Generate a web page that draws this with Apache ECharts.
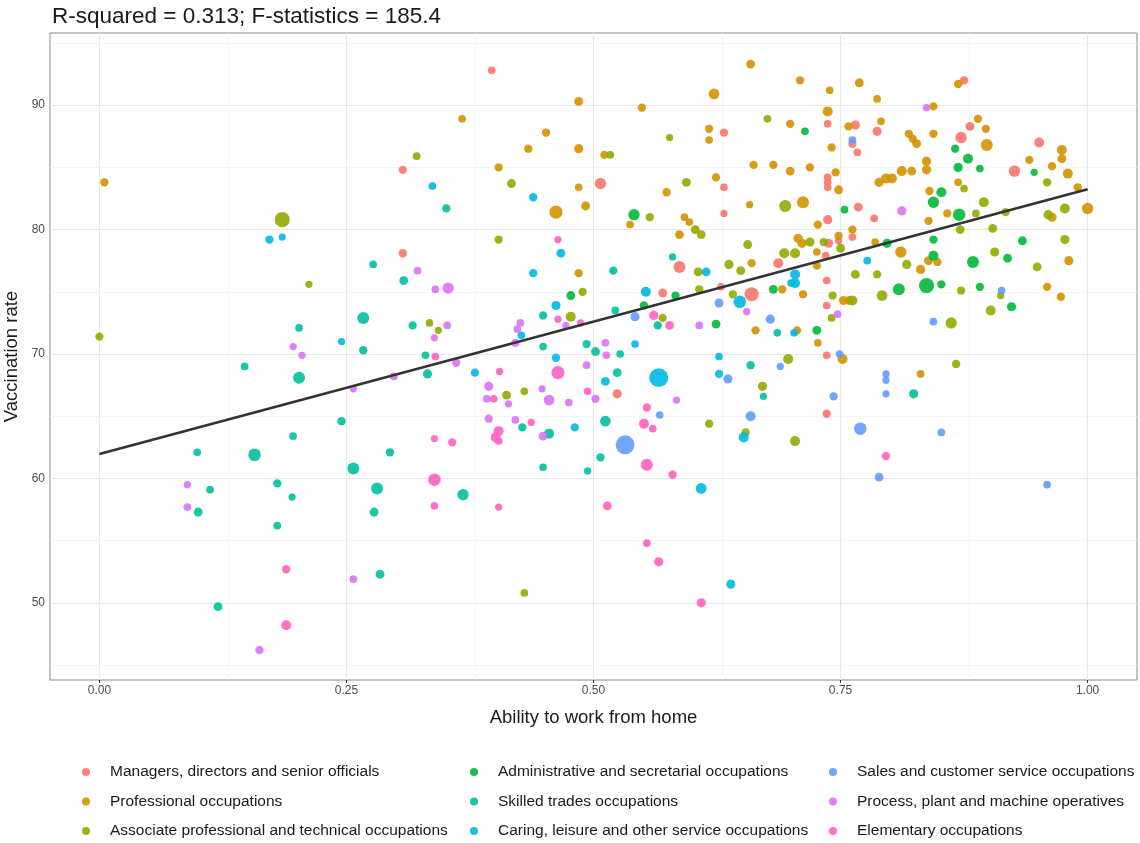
<!DOCTYPE html>
<html><head><meta charset="utf-8">
<script src="https://cdn.jsdelivr.net/npm/echarts@6/dist/echarts.min.js"></script>
<style>html,body{margin:0;padding:0;background:#fff}#chart{width:1140px;height:843px}</style>
</head><body><div id="chart"></div>
<script>
// ---- Data ----
const titleText = 'R-squared = 0.313; F-statistics = 185.4';
const xAxisTitle = 'Ability to work from home';
const yAxisTitle = 'Vaccination rate';
const xTicks = [0, 0.25, 0.5, 0.75, 1];
const yTicks = [50, 60, 70, 80, 90];
const xMinorTicks = [0.125, 0.375, 0.625, 0.875];
const yMinorTicks = [45, 55, 65, 75, 85, 95];
const groupNames = [
  'Managers, directors and senior officials',
  'Professional occupations',
  'Associate professional and technical occupations',
  'Administrative and secretarial occupations',
  'Skilled trades occupations',
  'Caring, leisure and other service occupations',
  'Sales and customer service occupations',
  'Process, plant and machine operatives',
  'Elementary occupations'
];
// each point: [ability to work from home, vaccination rate, workers (thousands)]
const managers = [
  [0.307,84.8,15],[0.307,78.1,15],[0.397,92.8,12],[0.507,83.7,35],[0.632,83.4,12],[0.632,87.8,15],
  [0.632,81.3,10],[0.587,77.0,40],[0.570,74.9,18],[0.629,75.4,12],[0.660,74.8,60],[0.524,66.8,20],
  [0.736,69.9,12],[0.736,65.2,15],[0.737,88.5,12],[0.765,88.4,20],[0.762,86.9,15],[0.767,86.2,12],
  [0.737,84.2,12],[0.737,83.8,12],[0.737,83.4,12],[0.737,80.8,20],[0.875,92.0,15],[0.787,87.9,20],
  [0.872,87.4,35],[0.881,88.3,18],[0.951,87.0,25],[0.926,84.7,35],[0.768,81.8,18],[0.784,80.9,12],
  [0.762,79.4,12],[0.738,78.9,18],[0.748,79.1,10],[0.735,77.9,12],[0.687,77.3,25],[0.736,75.9,12],
  [0.736,73.9,12]
];
const professional = [
  [0.005,83.8,15],[0.485,90.3,18],[0.549,89.8,15],[0.622,90.9,30],[0.659,93.3,18],[0.367,88.9,12],
  [0.452,87.8,15],[0.434,86.5,15],[0.485,86.5,20],[0.511,86.0,15],[0.404,85.0,15],[0.485,83.4,12],
  [0.462,81.4,50],[0.492,81.9,18],[0.574,83.0,15],[0.624,84.2,15],[0.617,88.1,15],[0.617,87.2,12],
  [0.662,85.2,15],[0.682,85.2,15],[0.658,82.0,10],[0.537,80.4,12],[0.592,81.0,12],[0.597,80.6,12],
  [0.587,79.6,18],[0.660,77.3,15],[0.485,76.5,15],[0.664,71.9,15],[0.752,69.6,25],[0.831,68.4,12],
  [0.709,92.0,15],[0.739,91.2,12],[0.737,89.5,25],[0.699,88.5,15],[0.758,88.3,15],[0.741,86.6,15],
  [0.699,84.7,18],[0.719,85.0,15],[0.745,84.6,15],[0.748,83.2,18],[0.712,82.2,40],[0.769,91.8,18],
  [0.787,90.5,12],[0.869,91.7,15],[0.844,89.9,15],[0.791,88.7,12],[0.819,87.7,15],[0.823,87.3,15],
  [0.827,86.9,18],[0.844,87.7,15],[0.889,88.9,15],[0.897,88.1,15],[0.898,86.8,40],[0.941,85.6,15],
  [0.964,85.1,15],[0.974,86.4,25],[0.974,85.7,18],[0.980,84.5,25],[0.990,83.4,15],[1.000,81.7,35],
  [0.964,81.0,20],[0.789,83.8,20],[0.796,84.1,25],[0.802,84.1,25],[0.812,84.7,25],[0.822,84.7,18],
  [0.837,85.5,20],[0.837,84.8,20],[0.869,83.8,12],[0.840,83.1,15],[0.839,80.7,15],[0.727,80.4,15],
  [0.748,79.5,15],[0.707,79.3,20],[0.711,78.9,20],[0.726,78.2,12],[0.726,77.1,15],[0.691,75.2,15],
  [0.712,74.8,15],[0.753,74.3,20],[0.759,74.3,20],[0.706,71.9,15],[0.727,70.9,12],[0.858,81.3,15],
  [0.762,80.0,15],[0.785,79.0,12],[0.811,78.2,35],[0.839,77.5,18],[0.848,77.4,15],[0.981,77.5,20],
  [0.831,76.8,20],[0.959,75.4,15],[0.973,74.6,15]
];
const associate = [
  [0.000,71.4,15],[0.185,80.8,70],[0.212,75.6,10],[0.321,85.9,12],[0.517,86.0,12],[0.417,83.7,18],
  [0.594,83.8,18],[0.577,87.4,10],[0.676,88.9,12],[0.557,81.0,15],[0.603,80.0,18],[0.609,79.6,18],
  [0.404,79.2,15],[0.656,78.8,18],[0.637,77.2,20],[0.649,76.7,18],[0.606,76.6,18],[0.489,75.0,15],
  [0.607,75.2,15],[0.641,74.8,15],[0.477,73.0,25],[0.570,72.9,15],[0.334,72.5,12],[0.343,71.9,10],
  [0.671,67.4,20],[0.412,66.7,18],[0.430,67.0,12],[0.617,64.4,15],[0.654,63.7,15],[0.430,50.8,12],
  [0.697,69.6,25],[0.867,69.2,15],[0.704,63.0,25],[0.694,81.9,40],[0.959,83.8,15],[0.977,81.7,25],
  [0.960,81.2,20],[0.917,81.4,15],[0.895,82.2,25],[0.875,83.3,12],[0.887,81.3,12],[0.719,79.0,20],
  [0.733,79.0,15],[0.750,78.5,18],[0.693,78.1,25],[0.704,78.1,25],[0.765,76.4,18],[0.742,74.7,15],
  [0.741,72.9,12],[0.871,80.0,18],[0.904,80.1,18],[0.977,79.2,20],[0.906,78.2,20],[0.949,77.0,18],
  [0.817,77.2,20],[0.787,76.4,15],[0.792,74.7,30],[0.762,74.3,25],[0.872,75.1,15],[0.912,74.7,10],
  [0.902,73.5,25],[0.862,72.5,35]
];
const administrative = [
  [0.541,81.2,35],[0.477,74.7,18],[0.583,74.7,15],[0.682,75.2,18],[0.551,73.9,15],[0.624,72.4,18],
  [0.714,87.9,12],[0.754,81.6,12],[0.946,84.6,10],[0.866,86.5,15],[0.879,85.7,25],[0.869,85.0,20],
  [0.891,84.9,12],[0.852,83.0,25],[0.844,82.2,35],[0.870,81.2,45],[0.726,71.9,18],[0.934,79.1,18],
  [0.844,79.2,15],[0.797,78.9,20],[0.844,77.9,25],[0.919,77.7,18],[0.884,77.4,40],[0.809,75.2,40],
  [0.837,75.5,70],[0.852,75.6,15],[0.891,75.4,15],[0.923,73.8,20]
];
const skilledTrades = [
  [0.277,77.2,12],[0.308,75.9,18],[0.267,72.9,40],[0.202,72.1,12],[0.317,72.3,15],[0.267,70.3,15],
  [0.147,69.0,12],[0.202,68.1,40],[0.245,64.6,15],[0.196,63.4,12],[0.099,62.1,12],[0.157,61.9,45],
  [0.257,60.8,40],[0.294,62.1,15],[0.112,59.1,12],[0.180,59.6,15],[0.195,58.5,10],[0.281,59.2,40],
  [0.100,57.3,18],[0.278,57.3,18],[0.180,56.2,12],[0.284,52.3,18],[0.120,49.7,18],[0.351,81.7,15],
  [0.580,77.8,10],[0.520,76.7,15],[0.449,73.1,15],[0.522,73.5,12],[0.565,72.3,15],[0.449,70.6,12],
  [0.493,70.8,15],[0.502,70.2,18],[0.527,70.0,12],[0.330,69.9,12],[0.659,69.1,15],[0.332,68.4,20],
  [0.524,68.5,18],[0.672,66.6,10],[0.428,64.1,15],[0.455,63.6,25],[0.512,64.6,30],[0.507,61.7,15],
  [0.449,60.9,12],[0.494,60.6,10],[0.368,58.7,35],[0.824,66.8,20],[0.686,71.7,12],[0.700,75.7,12]
];
const caring = [
  [0.172,79.2,15],[0.185,79.4,10],[0.245,71.0,10],[0.337,83.5,12],[0.439,82.6,15],[0.467,78.1,18],
  [0.614,76.6,18],[0.439,76.5,15],[0.553,75.0,25],[0.648,74.2,45],[0.462,73.9,20],[0.427,71.5,12],
  [0.542,70.8,12],[0.462,69.7,15],[0.627,69.8,12],[0.380,68.5,15],[0.512,67.8,18],[0.566,68.1,120],
  [0.627,68.4,15],[0.481,64.1,15],[0.652,63.3,25],[0.609,59.2,30],[0.639,51.5,20],[0.704,76.4,25],
  [0.704,75.7,25],[0.703,71.7,12],[0.777,77.5,12]
];
const sales = [
  [0.627,74.1,18],[0.679,72.8,20],[0.542,73.0,20],[0.636,68.0,20],[0.567,65.1,12],[0.659,65.0,25],
  [0.532,62.7,120],[0.689,69.0,10],[0.749,70.0,12],[0.796,68.4,10],[0.796,67.9,10],[0.796,66.8,10],
  [0.743,66.6,15],[0.770,64.0,45],[0.852,63.7,12],[0.789,60.1,18],[0.959,59.5,12],[0.762,87.2,12],
  [0.913,75.1,12],[0.844,72.6,12]
];
const processPlant = [
  [0.322,76.7,12],[0.196,70.6,10],[0.205,69.9,10],[0.298,68.2,12],[0.257,67.2,10],[0.089,59.5,10],
  [0.089,57.7,12],[0.257,51.9,12],[0.162,46.2,15],[0.340,75.2,12],[0.353,75.3,35],[0.655,73.4,10],
  [0.472,72.3,10],[0.607,72.3,12],[0.352,72.3,12],[0.339,71.3,10],[0.426,72.5,12],[0.423,72.0,12],
  [0.421,70.9,15],[0.512,70.9,12],[0.513,69.9,12],[0.361,69.3,15],[0.493,69.1,12],[0.394,67.4,20],
  [0.392,66.4,12],[0.414,66.0,10],[0.448,67.2,10],[0.455,66.3,30],[0.475,66.1,12],[0.502,66.4,15],
  [0.584,66.3,10],[0.394,64.8,15],[0.421,64.7,12],[0.449,63.4,18],[0.837,89.8,10],[0.812,81.5,20],
  [0.747,73.2,12]
];
const elementary = [
  [0.189,52.7,15],[0.189,48.2,25],[0.464,79.2,10],[0.464,72.8,10],[0.487,72.5,10],[0.561,73.1,20],
  [0.577,72.3,18],[0.340,69.8,12],[0.405,68.6,10],[0.464,68.5,50],[0.399,66.4,12],[0.494,67.0,12],
  [0.554,65.7,15],[0.437,64.5,10],[0.404,63.8,25],[0.401,63.3,25],[0.404,63.0,12],[0.551,64.4,25],
  [0.560,64.0,12],[0.554,61.1,40],[0.580,60.3,15],[0.339,63.2,10],[0.357,62.9,15],[0.339,59.9,45],
  [0.339,57.8,12],[0.404,57.7,10],[0.514,57.8,18],[0.554,54.8,12],[0.566,53.3,20],[0.609,50.0,20],
  [0.796,61.8,15]
];
const groupData = [managers, professional, associate, administrative, skilledTrades, caring, sales, processPlant, elementary];
// fitted regression line endpoints
const fitLine = [[0, 61.97], [1, 83.25]];

// ---- Styles ----
const palette = ['#F8766D','#D39200','#93AA00','#00BA38','#00C19F','#00B9E3','#619CFF','#DB72FB','#FF61C3'];
const sizeOf = v => 2.5 + 1.5 * Math.sqrt(v[2]);
const FONT = 'Liberation Sans, Arial, Helvetica, sans-serif';

const chart = echarts.init(document.getElementById('chart'), null, {renderer: 'canvas'});

const majorStyle = {type: 'solid', color: '#e8e8e8', width: 1.1};
const minorStyle = {type: 'solid', color: '#f3f3f3', width: 0.8};
const gridLineData = []
  .concat(xTicks.map(v => ({xAxis: v, lineStyle: majorStyle})))
  .concat(xMinorTicks.map(v => ({xAxis: v, lineStyle: minorStyle})))
  .concat(yTicks.map(v => ({yAxis: v, lineStyle: majorStyle})))
  .concat(yMinorTicks.map(v => ({yAxis: v, lineStyle: minorStyle})));

const series = [{
  type: 'line', data: [], z: 1, silent: true,
  markLine: {z: 1, silent: true, symbol: ['none','none'], label: {show: false},
    lineStyle: {type: 'solid'}, emphasis: {disabled: true}, data: gridLineData, animation: false}
}];
groupNames.forEach((name, i) => {
  series.push({
    name: name, type: 'scatter', data: groupData[i], z: 3,
    symbolSize: sizeOf,
    itemStyle: {color: palette[i], opacity: 0.9},
    emphasis: {disabled: true}
  });
});
series.push({
  type: 'line', data: fitLine, z: 5, symbol: 'none', silent: true,
  lineStyle: {color: '#333333', width: 2.6}
});

const legendBase = {
  orient: 'vertical', top: 758, padding: [5, 5, 0, 5], icon: 'circle', itemWidth: 38, itemHeight: 8, itemGap: 11.5,
  textStyle: {fontSize: 15.5, color: '#1a1a1a', fontFamily: FONT, lineHeight: 18},
  selectedMode: false
};

chart.setOption({
  animation: false,
  backgroundColor: '#ffffff',
  title: {
    text: titleText, left: 47, top: 0,
    textStyle: {fontSize: 22.5, fontWeight: 'normal', color: '#1a1a1a', fontFamily: FONT}
  },
  grid: {left: 50, right: 3, top: 33, bottom: 163, show: true, borderColor: '#8a8a8a', borderWidth: 1,
    backgroundColor: '#ffffff', containLabel: false, outerBoundsMode: 'none'},
  xAxis: {
    type: 'value', min: -0.05, max: 1.05,
    name: xAxisTitle, nameLocation: 'middle', nameGap: 28, nameMoveOverlap: false,
    nameTextStyle: {fontSize: 18.5, color: '#1a1a1a', fontFamily: FONT},
    axisLine: {show: false},
    axisTick: {show: true, length: 3, lineStyle: {color: '#333'}, customValues: xTicks},
    axisLabel: {show: true, customValues: xTicks, formatter: v => v.toFixed(2), fontSize: 12, color: '#4d4d4d', margin: 5, fontFamily: FONT},
    splitLine: {show: false}
  },
  yAxis: {
    type: 'value', min: 43.8, max: 95.8,
    name: yAxisTitle, nameLocation: 'middle', nameGap: 29, nameRotate: 90, nameMoveOverlap: false,
    nameTextStyle: {fontSize: 18.5, color: '#1a1a1a', fontFamily: FONT},
    axisLine: {show: false},
    axisTick: {show: true, length: 3, lineStyle: {color: '#333'}, customValues: yTicks},
    axisLabel: {show: true, customValues: yTicks, formatter: v => String(v), fontSize: 12, color: '#4d4d4d', margin: 5, fontFamily: FONT},
    splitLine: {show: false}
  },
  legend: [
    Object.assign({}, legendBase, {left: 77, data: groupNames.slice(0, 3)}),
    Object.assign({}, legendBase, {left: 465, data: groupNames.slice(3, 6)}),
    Object.assign({}, legendBase, {left: 824, data: groupNames.slice(6, 9)})
  ],
  series: series
});
</script>
</body></html>
